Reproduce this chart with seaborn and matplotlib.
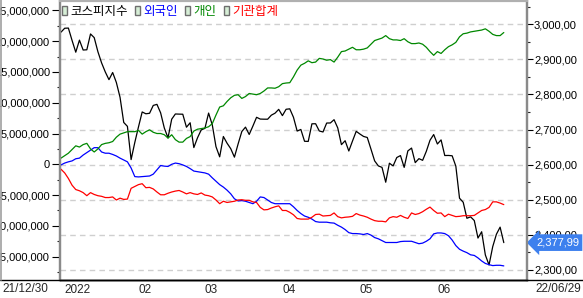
import numpy as np
import pandas as pd
import matplotlib
matplotlib.use("Agg")
import matplotlib.pyplot as plt
import seaborn as sns
from matplotlib.ticker import FuncFormatter, MultipleLocator
from matplotlib.patches import Rectangle
from matplotlib.lines import Line2D

# ---------------- data ----------------
dates = (["2021-12-30"]
         + [f"2022-01-{d:02d}" for d in [3, 4, 5, 6, 7, 10, 11, 12, 13, 14, 17, 18, 19, 20, 21, 24, 25, 26, 27, 28]]
         + [f"2022-02-{d:02d}" for d in [3, 4, 7, 8, 9, 10, 11, 14, 15, 16, 17, 18, 21, 22, 23, 24, 25, 28]]
         + [f"2022-03-{d:02d}" for d in [2, 3, 4, 7, 8, 10, 11, 14, 15, 16, 17, 18, 21, 22, 23, 24, 25, 28, 29, 30, 31]]
         + [f"2022-04-{d:02d}" for d in [1, 4, 5, 6, 7, 8, 11, 12, 13, 14, 15, 18, 19, 20, 21, 22, 25, 26, 27, 28, 29]]
         + [f"2022-05-{d:02d}" for d in [2, 3, 4, 6, 9, 10, 11, 12, 13, 16, 17, 18, 19, 20, 23, 24, 25, 26, 27, 30, 31]]
         + [f"2022-06-{d:02d}" for d in [2, 3, 7, 8, 9, 10, 13, 14, 15, 16, 17, 20, 21, 22, 23, 24, 27, 28, 29]])

kospi = [2977.65,
         2988.77, 2989.24, 2953.97, 2920.53, 2954.89, 2926.72, 2927.38, 2972.48, 2962.09, 2921.92,
         2890.10, 2864.24, 2842.28, 2862.68, 2834.29, 2792.00, 2720.39, 2709.24, 2614.49, 2663.34,
         2707.82, 2750.26, 2745.06, 2746.47, 2768.85, 2771.93, 2747.71, 2704.48, 2676.54, 2729.68,
         2744.52, 2744.09, 2743.80, 2706.79, 2719.53, 2648.80, 2676.76, 2699.18,
         2703.52, 2747.08, 2713.43, 2651.31, 2622.40, 2680.32, 2661.28, 2645.65, 2621.53, 2659.23,
         2694.51, 2707.02, 2686.05, 2710.00, 2735.05, 2729.98, 2729.66, 2729.56, 2741.07, 2746.74, 2757.65,
         2739.85, 2757.90, 2759.20, 2735.03, 2695.86, 2700.39, 2666.76, 2666.31, 2716.49, 2716.71,
         2696.06, 2693.21, 2718.69, 2718.89, 2728.21, 2704.71, 2657.13, 2668.31, 2639.06, 2667.49, 2695.05,
         2687.45, 2680.46, 2677.57, 2644.51, 2610.81, 2596.56, 2592.27, 2550.08, 2604.24, 2596.58,
         2620.44, 2625.98, 2592.34, 2639.29, 2647.38, 2605.87, 2617.22, 2612.45, 2638.05, 2669.66, 2685.90,
         2658.99, 2670.65, 2626.15, 2626.34, 2625.44, 2595.87, 2504.51, 2492.97, 2447.38, 2451.41,
         2440.93, 2391.03, 2408.93, 2342.81, 2314.32, 2366.60, 2401.92, 2422.09, 2377.99]

# cumulative net buying, in millions (axis shows x 1,000,000)
foreign = [-0.1, 0.2, 0.4, 0.55, 0.9, 1.0, 1.5, 1.9, 2.3, 2.7,
           2.7, 2.0, 1.8, 1.8, 1.6, 1.35, 1.0, 0.7, 0.4, -0.6,
           -2.0, -2.05, -2.0, -1.95, -1.9, -1.6, -0.9, -0.2, -0.3, -0.35,
           0.0, 0.2, 0.1, -0.1, -0.35, -0.7, -1.1, -1.2, -1.3, -1.4,
           -1.6, -2.2, -2.75, -3.3, -3.7, -4.2, -4.8, -5.6, -5.95, -5.9,
           -6.0, -6.2, -6.4, -6.0, -5.3, -5.4, -5.8, -6.2, -6.4, -6.4,
           -6.4, -6.4, -6.4, -6.9, -7.5, -8.0, -8.4, -8.6, -8.9, -9.3,
           -9.4, -9.4, -9.4, -9.5, -9.55, -9.9, -10.2, -10.6, -11.1, -11.25,
           -11.25, -11.3, -11.4, -11.25, -11.5, -11.9, -12.1, -12.4, -12.7, -12.7,
           -12.7, -12.7, -12.55, -12.5, -12.5, -12.5, -12.7, -12.9, -12.8, -12.5,
           -12.1, -11.3, -11.15, -11.15, -11.25, -11.6, -12.3, -13.2, -13.8, -14.1,
           -14.35, -14.7, -14.8, -15.2, -15.7, -16.1, -16.3, -16.45, -16.4, -16.4,
           -16.5]

individual = [1.0, 1.4, 1.8, 2.4, 3.0, 2.8, 3.2, 3.4, 2.5, 2.0,
              2.5, 3.2, 3.4, 3.5, 3.7, 4.4, 4.9, 5.1, 5.3, 5.3,
              5.3, 5.5, 4.9, 5.3, 5.6, 5.2, 5.0, 5.0, 4.8, 4.25,
              4.8, 4.0, 3.6, 3.6, 4.2, 4.5, 5.4, 5.7, 5.8, 5.9,
              6.1, 6.6, 8.0, 9.3, 9.5, 10.2, 10.8, 11.2, 11.3, 10.7,
              11.0, 11.5, 11.4, 11.3, 11.5, 11.9, 12.4, 12.4, 12.35, 12.6,
              13.1, 13.2, 13.25, 14.2, 15.3, 16.1, 16.4, 16.8, 16.5, 16.6,
              17.2, 17.1, 16.9, 17.0, 16.6, 17.4, 18.3, 18.4, 18.7, 19.0,
              18.6, 18.6, 18.7, 18.9, 19.5, 20.1, 20.3, 20.5, 20.9, 20.4,
              20.2, 20.2, 20.1, 20.4, 19.9, 19.6, 19.6, 19.7, 19.5, 19.0,
              18.3, 17.7, 18.3, 18.0, 18.6, 19.1, 19.4, 19.8, 20.7, 21.2,
              21.3, 21.5, 21.6, 21.7, 21.8, 22.0, 21.6, 21.1, 20.9, 20.9,
              21.4]

institution = [-0.8, -1.4, -2.3, -3.4, -4.1, -4.3, -4.6, -5.1, -4.6, -4.9,
               -5.1, -5.2, -5.4, -5.4, -5.3, -5.8, -5.5, -5.7, -5.65, -3.9,
               -3.6, -3.3, -3.15, -3.8, -3.75, -4.0, -4.5, -4.95, -4.95, -4.7,
               -4.5, -4.35, -4.25, -4.5, -4.8, -4.6, -4.8, -4.9, -4.65, -5.0,
               -5.1, -5.3, -5.8, -6.4, -6.0, -6.2, -6.1, -6.0, -5.8, -5.75,
               -5.85, -5.85, -6.1, -6.2, -7.0, -7.4, -7.35, -7.1, -6.9, -6.75,
               -7.5, -7.5, -7.8, -8.2, -8.8, -8.9, -8.9, -8.9, -8.6, -8.15,
               -8.1, -8.4, -8.35, -8.3, -7.9, -8.5, -8.7, -8.6, -8.55, -8.45,
               -8.0, -8.25, -8.4, -8.6, -8.9, -9.15, -9.25, -9.25, -9.35, -8.7,
               -8.5, -8.6, -8.3, -8.6, -8.8, -7.9, -8.15, -8.0, -7.7, -7.3,
               -6.95, -7.5, -7.95, -7.9, -8.5, -8.1, -8.3, -8.5, -8.45, -8.35,
               -8.35, -8.35, -8.3, -7.9, -7.5, -7.35, -7.0, -6.1, -6.1, -6.3,
               -6.55]

series_names = ["코스피지수", "외국인", "개인", "기관합계"]
series_colors = ["#000000", "#0000ff", "#008800", "#ff0000"]
month_tick_labels = ["2022", "02", "03", "04", "05", "06"]
range_labels = ["21/12/30", "22/06/29"]

assert len(dates) == len(kospi) == len(foreign) == len(individual) == len(institution) == 121

# ---------------- frame ----------------
df = pd.DataFrame({"idx": np.arange(len(dates)), "date": pd.to_datetime(dates),
                   "kospi": kospi, "foreign": foreign,
                   "individual": individual, "institution": institution})
# ticks sit on the first trading day of each month of 2022
first_days = df[df["date"].dt.year == 2022].groupby(df["date"].dt.month)["idx"].min()
month_tick_pos = list(first_days.values)

sns.set_style("white")
num_font = ["Liberation Sans", "DejaVu Sans"]
kr_font = ["Noto Sans CJK KR", "DejaVu Sans"]
plt.rcParams["font.family"] = num_font
plt.rcParams["axes.unicode_minus"] = False
NUM_SIZE = 8.0
X_SIZE = 8.5

W, H = 583, 298
fig = plt.figure(figsize=(W / 100, H / 100), dpi=100)
fig.patch.set_facecolor("white")

left_px, right_px, top_px, bottom_px = 59.5, 527.0, 0.5, 280.0
ax = fig.add_axes([left_px / W, 1 - bottom_px / H,
                   (right_px - left_px) / W, (bottom_px - top_px) / H])
ax2 = ax.twinx()

LW = 0.9
# KOSPI (right scale) on main axes so its grid sits beneath everything
sns.lineplot(data=df, x="idx", y="kospi", ax=ax, color=series_colors[0], lw=LW)
sns.lineplot(data=df, x="idx", y="foreign", ax=ax2, color=series_colors[1], lw=LW)
sns.lineplot(data=df, x="idx", y="individual", ax=ax2, color=series_colors[2], lw=LW)
sns.lineplot(data=df, x="idx", y="institution", ax=ax2, color=series_colors[3], lw=LW)

# x axis
px_per_day = 3.69
x0_px = 61.0
ax.set_xlim((left_px - x0_px) / px_per_day, (right_px - x0_px) / px_per_day)
ax.set_xticks(month_tick_pos)
ax.set_xticklabels(month_tick_labels)
for t in ax.get_xticklabels():
    t.set_ha("left")
    t.set_fontfamily(num_font)
    t.set_fontsize(X_SIZE)
ax.tick_params(axis="x", direction="out", length=5, width=0.8, color="black", pad=-2.4)
ax.set_xlabel("")
ax2.set_xlabel("")

# right axis (KOSPI)
ax.set_ylim(2271.5, 3067.8)
ax.yaxis.tick_right()
ax.yaxis.set_label_position("right")
ax.yaxis.set_major_locator(MultipleLocator(100))
ax.yaxis.set_minor_locator(MultipleLocator(50))
ax.yaxis.set_major_formatter(FuncFormatter(lambda v, p: f"{v:,.2f}".replace(".", ",")))
ax.tick_params(axis="y", which="major", direction="out", length=4, width=0.8, pad=1,
               labelsize=NUM_SIZE, colors="black", left=False, right=True, labelleft=False, labelright=True)
ax.tick_params(axis="y", which="minor", direction="out", length=2.5, width=0.8, left=False, right=True)
ax.set_ylabel("")
ax.grid(axis="y", which="major", color="#cfcfcf", linestyle=(0, (4, 3)), linewidth=1.0)
ax.grid(axis="x", visible=False)

# left axis (investor flows)
ax2.set_ylim(-18.79, 26.6)
ax2.yaxis.tick_left()
ax2.yaxis.set_label_position("left")
ax2.yaxis.set_major_locator(MultipleLocator(5))
ax2.yaxis.set_minor_locator(MultipleLocator(2.5))
ax2.yaxis.set_major_formatter(FuncFormatter(lambda v, p: f"{int(round(v * 1e6)):,}"))
ax2.tick_params(axis="y", which="major", direction="out", length=6, width=0.8, pad=1,
                labelsize=NUM_SIZE, colors="black", left=True, right=False, labelleft=True, labelright=False)
ax2.tick_params(axis="y", which="minor", direction="out", length=2.5, width=0.8, left=True, right=False)
ax2.set_ylabel("")
ax2.tick_params(axis="x", bottom=False, labelbottom=False, top=False)

for a in (ax, ax2):
    a.spines["left"].set_color("#8a8a8a")
    a.spines["left"].set_linewidth(1.6)
    a.spines["right"].set_color("#8a8a8a")
    a.spines["right"].set_linewidth(1.6)
    a.spines["top"].set_color("#b0b0b0")
    a.spines["top"].set_linewidth(1.5)
    a.spines["bottom"].set_color("black")
    a.spines["bottom"].set_linewidth(1.0)
    for t in a.get_yticklabels():
        t.set_fontfamily(num_font)
ax2.patch.set_visible(False)

# legend
handles = [Rectangle((0, 0), 1, 1, facecolor="#d6eed6", edgecolor="#6e6e6e", linewidth=1.0)
           for _ in series_names]
leg = ax2.legend(handles, series_names, loc="upper left",
                 bbox_to_anchor=(2.5 / (right_px - left_px), 1 - 4.0 / (bottom_px - top_px)),
                 ncol=4, frameon=False, borderpad=0, borderaxespad=0,
                 handlelength=0.4, handleheight=0.75, handletextpad=0.25, columnspacing=0.6,
                 prop={"family": kr_font, "size": 9.0})
for txt, c in zip(leg.get_texts(), series_colors):
    txt.set_color(c)

# last price tag
last = kospi[-1]
ax.annotate(f"{last:,.2f}".replace(".", ","), xy=(1.0, last), xycoords=("axes fraction", "data"),
            xytext=(9, 0), textcoords="offset pixels", ha="left", va="center",
            color="white", fontsize=NUM_SIZE, family=num_font, annotation_clip=False, zorder=20,
            bbox=dict(boxstyle="larrow,pad=0.3", fc="#3d80ee", ec="none"))

# full-width baseline, outer border and range labels
yb = 1 - bottom_px / H
fig.add_artist(Line2D([0, 1], [yb, yb], transform=fig.transFigure, color="black", lw=1.0))
fig.add_artist(Line2D([0.5 / W, 0.5 / W], [yb, 1], transform=fig.transFigure, color="#a0a0a0", lw=1.2))
fig.text(2 / W, 1 - 283 / H, range_labels[0], ha="left", va="top", fontsize=X_SIZE, family=num_font)
fig.text(581 / W, 1 - 283 / H, range_labels[1], ha="right", va="top", fontsize=X_SIZE, family=num_font)

fig.savefig("out.png", dpi=100, facecolor="white")
